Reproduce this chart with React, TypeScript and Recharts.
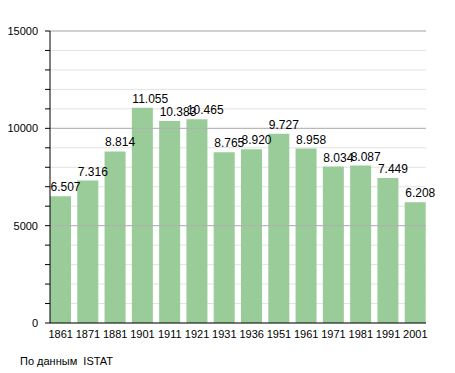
import React from 'react';
import {
  BarChart,
  Bar,
  XAxis,
  YAxis,
  CartesianGrid,
  ReferenceLine,
  LabelList,
} from 'recharts';

const years = ['1861', '1871', '1881', '1901', '1911', '1921', '1931', '1936', '1951', '1961', '1971', '1981', '1991', '2001'];
const population = [6507, 7316, 8814, 11055, 10383, 10465, 8765, 8920, 9727, 8958, 8034, 8087, 7449, 6208];
const yTicks = [0, 1000, 2000, 3000, 4000, 5000, 6000, 7000, 8000, 9000, 10000, 11000, 12000, 13000, 14000, 15000];
const majorTicks = [5000, 10000, 15000];

const data = years.map((y, i) => ({ year: y, value: population[i] }));

const FONT = '"Liberation Sans", Arial, sans-serif';

const fmt = (v: number) => String(v).replace(/\B(?=(\d{3})+(?!\d))/g, '.');

function YTick(props: any) {
  const { x, y, payload } = props;
  if (payload.value % 5000 !== 0) return null;
  return (
    <text x={x} y={y} dy={4} textAnchor="end" fontSize={11} fill="#000" fontFamily={FONT}>
      {payload.value}
    </text>
  );
}

// value labels sit left-aligned on the bar's left edge
function BarLabel(props: any) {
  const { x, y, value } = props;
  return (
    <text x={Number(x) + 0.5} y={Number(y) - 5} textAnchor="start" fontSize={12} fill="#000" fontFamily={FONT}>
      {fmt(Number(value))}
    </text>
  );
}

export default function App() {
  return (
    <div style={{ position: 'absolute', left: 0, top: 0, width: 455, height: 373, background: '#fff', fontFamily: FONT }}>
      <BarChart
        width={455}
        height={373}
        data={data}
        margin={{ top: 31, right: 29, left: 0, bottom: 30 }}
      >
        <CartesianGrid vertical={false} stroke="#e3e3e3" />
        {majorTicks.map((t) => (
          <ReferenceLine key={t} y={t} stroke="#b0b0b0" ifOverflow="visible" />
        ))}
        <XAxis
          dataKey="year"
          padding={{ left: -3, right: -3 }}
          tickLine={false}
          tickSize={0}
          tickMargin={7}
          axisLine={{ stroke: '#000' }}
          tick={{ fontSize: 11, fill: '#000', fontFamily: FONT }}
          interval={0}
          height={20}
        />
        <YAxis
          width={50}
          domain={[0, 15000]}
          ticks={yTicks}
          interval={0}
          tickSize={5}
          tickMargin={7}
          tickLine={{ stroke: '#000' }}
          axisLine={{ stroke: '#000' }}
          tick={<YTick />}
        />
        <Bar dataKey="value" fill="#99cc99" barSize={21} isAnimationActive={false}>
          <LabelList dataKey="value" content={<BarLabel />} />
        </Bar>
      </BarChart>
      <div style={{ position: 'absolute', left: 20, top: 355, fontSize: 11, color: '#000', fontFamily: FONT, whiteSpace: 'pre' }}>
        По данным  ISTAT
      </div>
    </div>
  );
}
